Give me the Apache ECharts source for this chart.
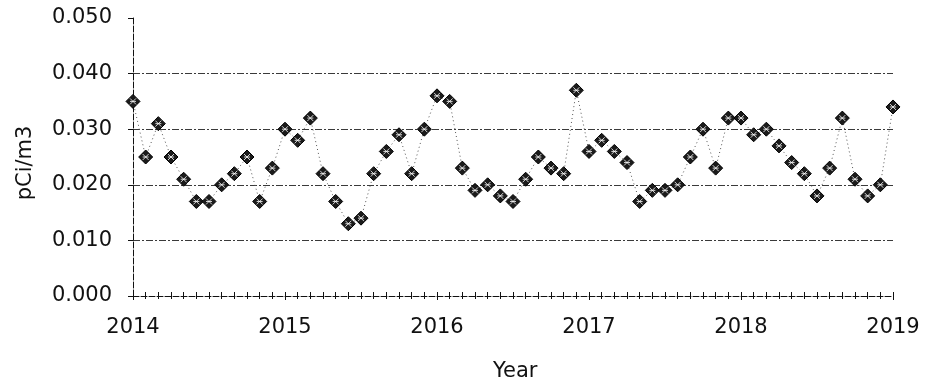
<!DOCTYPE html>
<html>
<head>
<meta charset="utf-8">
<script src="https://cdn.jsdelivr.net/npm/echarts@6/dist/echarts.min.js"></script>
<style>
  html, body { margin: 0; padding: 0; background: #fff; }
  #chart { width: 925px; height: 391px; }
</style>
</head>
<body>
<div id="chart"></div>
<script>
// Monthly air concentration, January 2014 through January 2019
const startYear = 2014;
const endYear = 2019;
const monthlyValues = [
  0.035, 0.025, 0.031, 0.025, 0.021, 0.017, 0.017, 0.020, 0.022, 0.025, 0.017, 0.023,
  0.030, 0.028, 0.032, 0.022, 0.017, 0.013, 0.014, 0.022, 0.026, 0.029, 0.022, 0.030,
  0.036, 0.035, 0.023, 0.019, 0.020, 0.018, 0.017, 0.021, 0.025, 0.023, 0.022, 0.037,
  0.026, 0.028, 0.026, 0.024, 0.017, 0.019, 0.019, 0.020, 0.025, 0.030, 0.023, 0.032,
  0.032, 0.029, 0.030, 0.027, 0.024, 0.022, 0.018, 0.023, 0.032, 0.021, 0.018, 0.020,
  0.034
];
const yTicks = [0, 0.01, 0.02, 0.03, 0.04, 0.05];
const xTitle = 'Year';
const yTitle = 'pCi/m3';

// Each sample sits at its month's position along the year scale
const points = monthlyValues.map((v, i) => [startYear + i / 12, v]);

const FONT = 'DejaVu Sans';
const INK = '#111';

const chart = echarts.init(document.getElementById('chart'), null, { renderer: 'canvas' });

const xBase = {
  type: 'value',
  min: startYear,
  max: endYear,
  interval: 1,
  splitLine: { show: false }
};

chart.setOption({
  animation: false,
  backgroundColor: '#fff',
  grid: { left: 133, right: 32, top: 18, bottom: 95 },
  xAxis: [
    Object.assign({}, xBase, {
      position: 'bottom',
      axisLine: { show: true, lineStyle: { color: INK, width: 1, type: [6, 2] } },
      axisTick: { show: false },
      minorTick: { show: false },
      axisLabel: {
        margin: 21, color: INK, fontFamily: FONT, fontSize: 21,
        formatter: v => String(Math.round(v))
      }
    }),
    // same scale, shifted up a little, so its ticks straddle the axis line as crosses
    Object.assign({}, xBase, {
      position: 'bottom',
      offset: -4,
      axisLine: { show: false },
      axisTick: { show: true, length: 8, lineStyle: { color: INK, width: 1 } },
      minorTick: { show: true, splitNumber: 12, length: 7, lineStyle: { color: INK, width: 1 } },
      axisLabel: { show: false }
    })
  ],
  yAxis: {
    type: 'value',
    min: yTicks[0],
    max: yTicks[yTicks.length - 1],
    interval: 0.01,
    axisLine: { show: true, lineStyle: { color: INK, width: 1, type: [6, 2] } },
    axisTick: { show: true, length: 5, lineStyle: { color: INK } },
    axisLabel: {
      margin: 21, color: INK, fontFamily: FONT, fontSize: 21,
      formatter: v => v.toFixed(3)
    },
    splitLine: {
      show: true,
      lineStyle: {
        color: ['transparent', '#3a3a3a', '#3a3a3a', '#3a3a3a', '#3a3a3a', 'transparent'],
        width: 1,
        type: [7, 2, 2, 2]
      }
    }
  },
  series: [
    {
      type: 'line',
      data: points,
      xAxisIndex: 0,
      symbol: 'diamond',
      symbolSize: 14,
      showAllSymbol: true,
      lineStyle: { color: '#555', width: 1, type: [1, 3] },
      itemStyle: { color: '#1b1b1b', borderColor: '#000', borderWidth: 1 },
      z: 3
    },
    {
      // hatch inside each marker
      type: 'scatter',
      data: points,
      xAxisIndex: 0,
      symbol: 'path://M0,0L10,10M10,0L0,10M0,5L10,5',
      symbolSize: 6,
      itemStyle: { color: 'none', borderColor: '#fff', borderWidth: 1 },
      silent: true,
      z: 4
    }
  ],
  graphic: [
    {
      type: 'text',
      left: 493, top: 361,
      style: { text: xTitle, font: '21px "DejaVu Sans"', fill: INK }
    },
    {
      type: 'text',
      x: 36, y: 163,
      rotation: Math.PI / 2,
      style: {
        text: yTitle, font: '21px "DejaVu Sans"', fill: INK,
        align: 'center', verticalAlign: 'bottom'
      }
    }
  ]
});
</script>
</body>
</html>
